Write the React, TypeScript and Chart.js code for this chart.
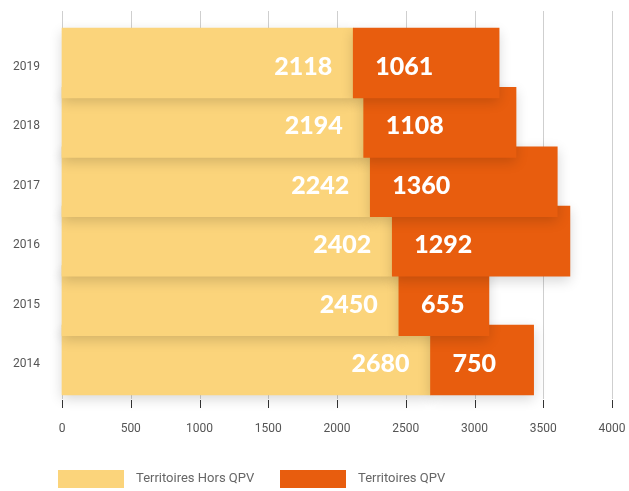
import React, { useEffect, useRef } from "react";
import { Chart, registerables } from "chart.js";

Chart.register(...registerables);

const years = ["2014", "2015", "2016", "2017", "2018", "2019"];
const horsQPV = [2680, 2450, 2402, 2242, 2194, 2118];
const qpv = [750, 655, 1292, 1360, 1108, 1061];
const seriesNames = ["Territoires Hors QPV", "Territoires QPV"];
const seriesColors = ["#FBD47B", "#E85D0E"];
const xTicks = [0, 500, 1000, 1500, 2000, 2500, 3000, 3500, 4000];

const barsPlugin = {
  id: "barsInOrder",
  beforeDatasetsDraw(chart: any) {
    const ctx = chart.ctx;
    ctx.save();
    ctx.shadowColor = "rgba(0,0,0,0.16)";
    ctx.shadowBlur = 12;
    ctx.shadowOffsetX = 0;
    ctx.shadowOffsetY = 4;
    chart.data.datasets.forEach((_ds: any, di: number) => {
      chart.getDatasetMeta(di).controller.draw();
    });
    ctx.restore();

    ctx.save();
    ctx.fillStyle = "#ffffff";
    ctx.font = '900 25px "Lato", sans-serif';
    ctx.textBaseline = "middle";
    chart.data.datasets.forEach((ds: any, di: number) => {
      const meta = chart.getDatasetMeta(di);
      meta.data.forEach((el: any, i: number) => {
        const txt = String(ds.data[i]);
        if (di === 0) {
          ctx.textAlign = "right";
          ctx.fillText(txt, el.x - 21, el.y + 4);
        } else {
          ctx.textAlign = "left";
          ctx.fillText(txt, el.base + 22, el.y + 4);
        }
      });
    });
    ctx.restore();
    return false;
  },
};

const gridPlugin = {
  id: "xGrid",
  beforeDatasetsDraw(chart: any) {
    const ctx = chart.ctx;
    const xs = chart.scales.x;
    const area = chart.chartArea;
    ctx.save();
    xTicks.forEach((v) => {
      const px = Math.round(xs.getPixelForValue(v)) + 0.5;
      ctx.strokeStyle = "#cfcfcf";
      ctx.lineWidth = 1;
      ctx.beginPath();
      ctx.moveTo(px, area.top);
      ctx.lineTo(px, area.bottom + 1);
      ctx.stroke();
      ctx.strokeStyle = "#333333";
      ctx.beginPath();
      ctx.moveTo(px, area.bottom + 2);
      ctx.lineTo(px, area.bottom + 10);
      ctx.stroke();
    });
    ctx.restore();
  },
};

const legendPlugin = {
  id: "customLegend",
  afterDraw(chart: any) {
    const ctx = chart.ctx;
    const starts = [58, 280];
    ctx.save();
    ctx.font = '13px "Roboto", sans-serif';
    ctx.textBaseline = "middle";
    ctx.textAlign = "left";
    chart.data.datasets.forEach((ds: any, i: number) => {
      const x = starts[i];
      ctx.fillStyle = ds.backgroundColor;
      ctx.fillRect(x, 470, 66, 18);
      ctx.fillStyle = "#666666";
      ctx.fillText(ds.label, x + 78, 479);
    });
    ctx.restore();
  },
};

export default function App() {
  const ref = useRef<HTMLCanvasElement | null>(null);
  useEffect(() => {
    if (!ref.current) return;
    const chart = new Chart(ref.current, {
      type: "bar",
      data: {
        labels: years,
        datasets: [
          {
            label: seriesNames[0],
            data: horsQPV,
            backgroundColor: seriesColors[0],
            borderWidth: 0,
            barThickness: 70,
          },
          {
            label: seriesNames[1],
            data: qpv,
            backgroundColor: seriesColors[1],
            borderWidth: 0,
            barThickness: 70,
          },
        ],
      },
      options: {
        indexAxis: "y",
        animation: false,
        responsive: false,
        maintainAspectRatio: false,
        layout: { padding: { top: 11, right: 17, bottom: 53, left: 0 } },
        plugins: {
          legend: { display: false },
          tooltip: { enabled: false },
        },
        scales: {
          x: {
            type: "linear",
            stacked: true,
            min: 0,
            max: 4000,
            grid: { display: false },
            border: { display: false },
            afterBuildTicks: (s: any) => {
              s.ticks = xTicks.map((v) => ({ value: v }));
            },
            afterFit: (s: any) => {
              s.height = 40;
              s.paddingLeft = 0;
              s.paddingRight = 0;
            },
            ticks: {
              padding: 16,
              color: "#555555",
              font: { family: "Roboto", size: 12 },
              callback: (v: any) => String(v),
            },
          },
          y: {
            type: "linear",
            stacked: true,
            offset: false,
            min: 2013.36,
            max: 2019.875,
            grid: { display: false, drawTicks: true, tickLength: 22, offset: false },
            border: { display: false },
            afterBuildTicks: (s: any) => {
              s.ticks = years.map((v) => ({ value: Number(v) }));
            },
            afterFit: (s: any) => {
              s.width = 62;
              s.paddingTop = 0;
              s.paddingBottom = 0;
            },
            ticks: {
              padding: 0,
              labelOffset: 4,
              color: "#555555",
              font: { family: "Roboto", size: 12 },
              callback: (v: any) => String(v),
            },
          },
        },
      },
      plugins: [gridPlugin, barsPlugin, legendPlugin],
    } as any);
    return () => chart.destroy();
  }, []);
  return (
    <div style={{ position: "fixed", left: 0, top: 0, width: 629, height: 491, background: "#fff" }}>
      <canvas ref={ref} width={629} height={491} style={{ width: 629, height: 491 }} />
    </div>
  );
}
